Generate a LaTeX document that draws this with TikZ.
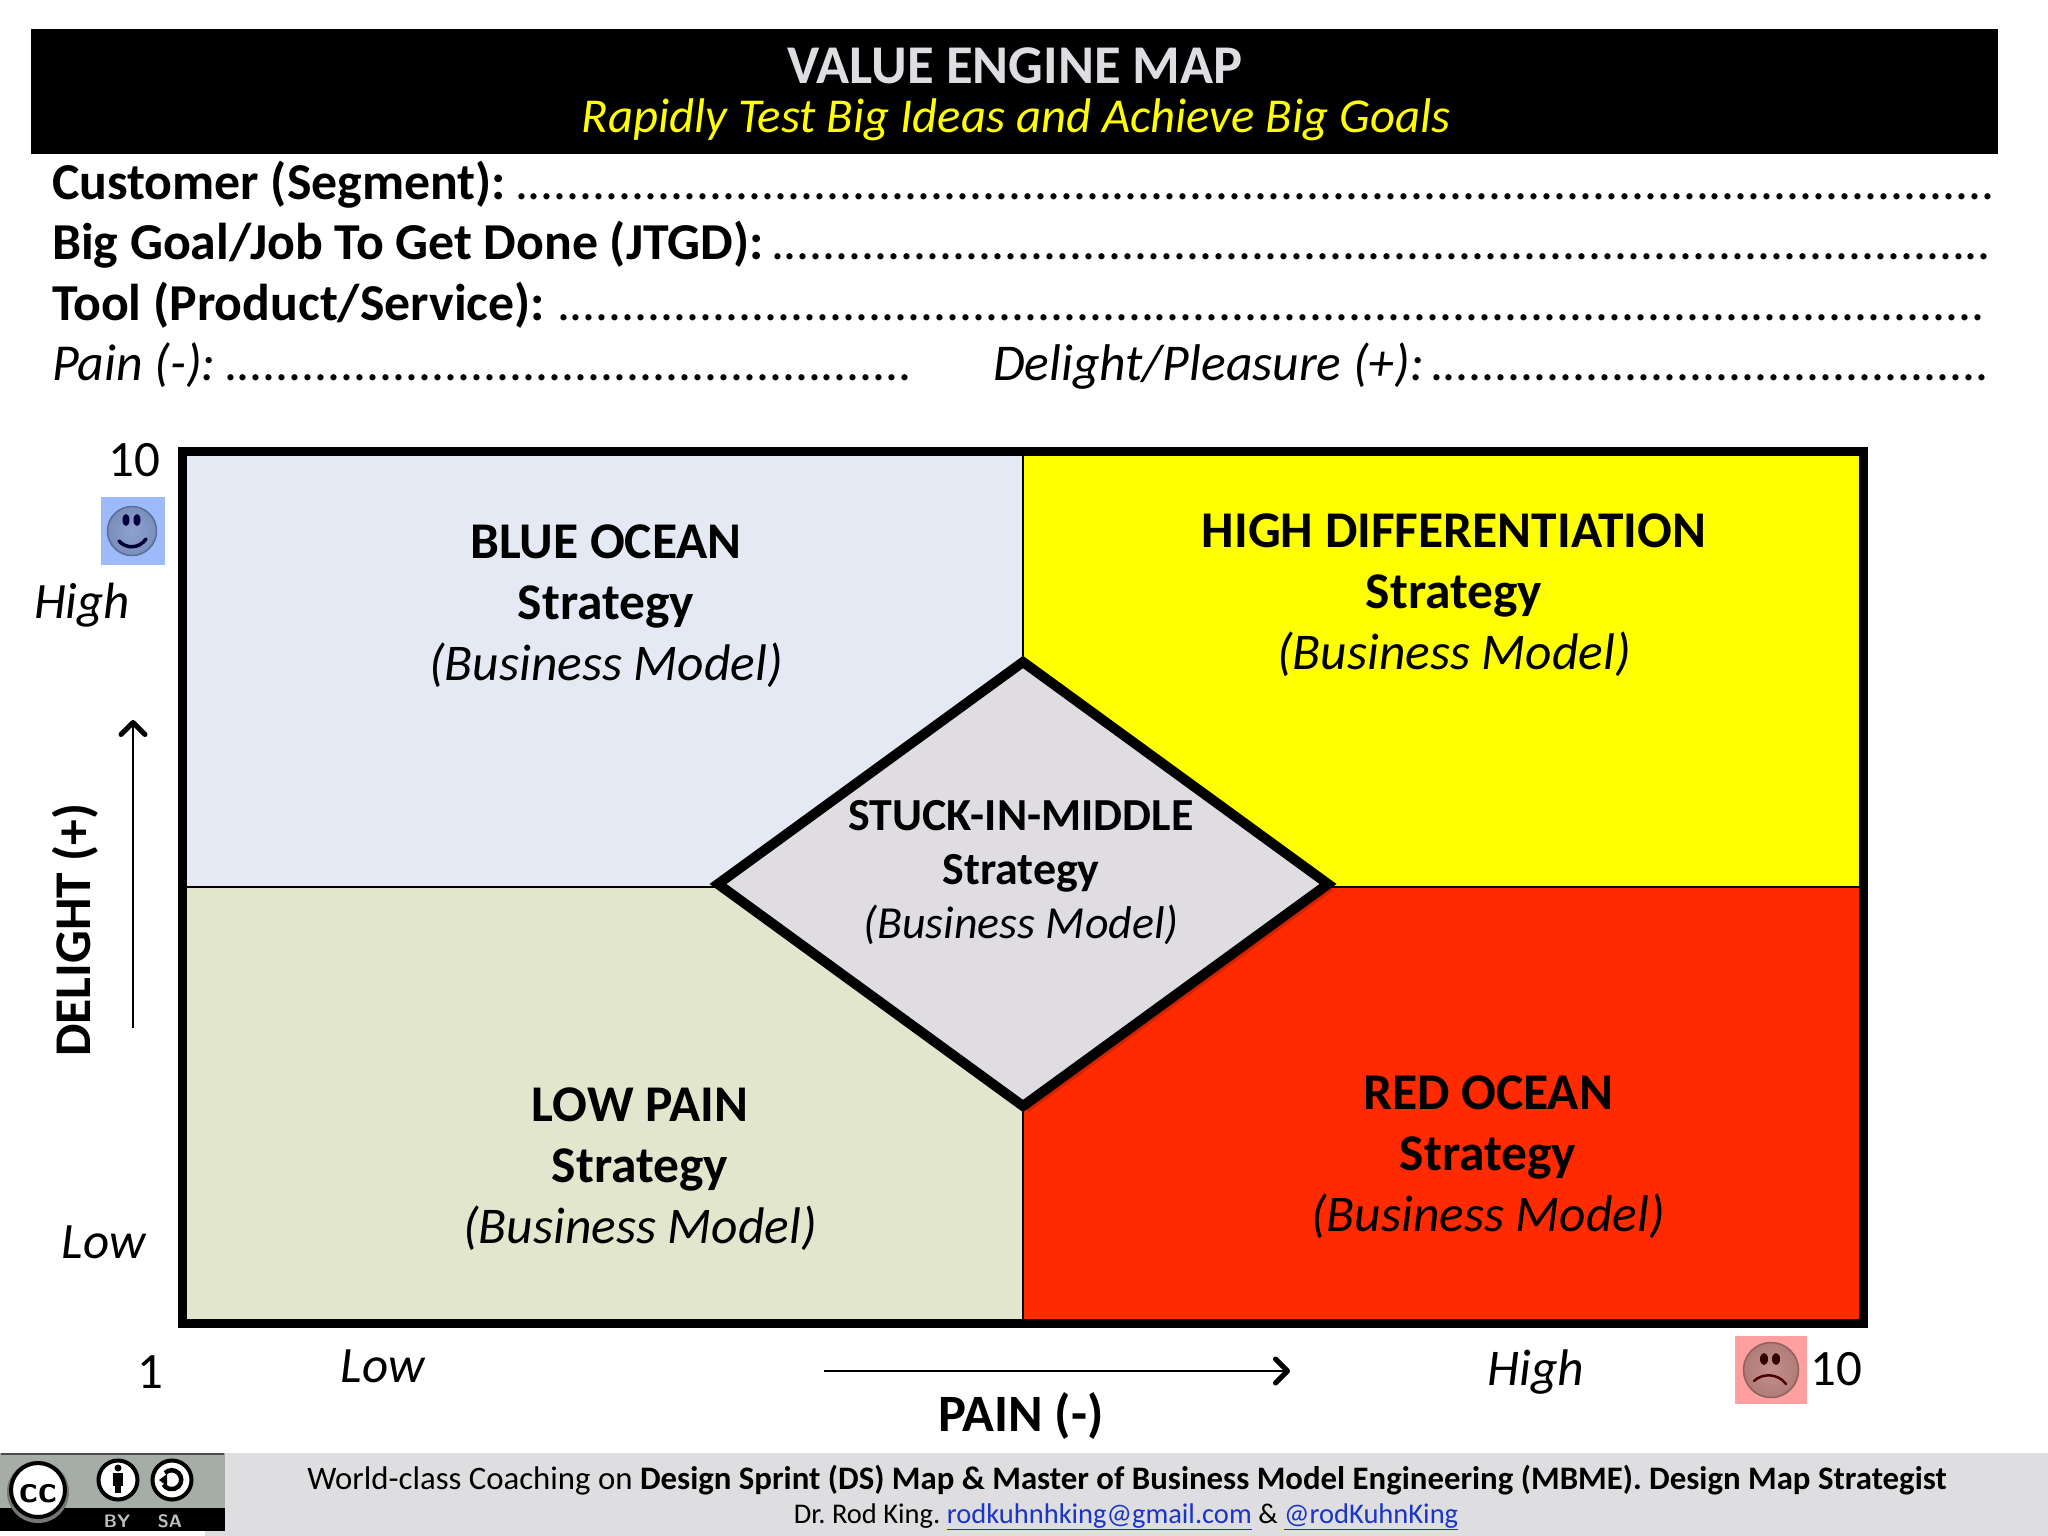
\documentclass[tikz,border=0pt]{standalone}
\usepackage{fontspec}
\setmainfont{Carlito}
\usetikzlibrary{arrows.meta}
\definecolor{qblue}{HTML}{E4E9F4}
\definecolor{qgreen}{HTML}{E1E6CC}
\definecolor{qyellow}{HTML}{FFFF00}
\definecolor{qred}{HTML}{FF2A00}
\definecolor{qgray}{HTML}{DFDDE1}
\definecolor{footgray}{HTML}{DEDDE0}
\definecolor{linkblue}{HTML}{1A35C8}
\definecolor{smsq}{HTML}{9DBBFB}
\definecolor{smin}{HTML}{8DA2CF}
\definecolor{smout}{HTML}{7A8EBB}
\definecolor{smring}{HTML}{5A6E98}
\definecolor{frsq}{HTML}{FF9F9F}
\definecolor{frin}{HTML}{C48F8B}
\definecolor{frout}{HTML}{B07C78}
\definecolor{frring}{HTML}{8E625F}
\definecolor{ccgray}{HTML}{A6ACA6}
\newcommand\fs[1]{\fontsize{#1}{#1}\selectfont}
\frenchspacing
\tikzset{
 lbl/.style={inner sep=0pt,outer sep=0pt,anchor=base},
 lblw/.style={inner sep=0pt,outer sep=0pt,anchor=base west},
 quad/.style={draw=black,line width=1.5pt},
 qt/.style={inner sep=0pt,outer sep=0pt,align=center,anchor=center,font=\fontsize{51.5}{61}\selectfont},
 qtm/.style={inner sep=0pt,outer sep=0pt,align=center,anchor=center,font=\fontsize{45.9}{54}\selectfont},
 axarrow/.style={line width=2pt,-{Straight Barb[length=12pt,width=24pt,line width=5pt,round]}},
 cclogo/.style={fill=white,draw=black,line width=4pt},
 dshadow/.style={fill=black,opacity=.16},
}
\begin{document}
\begin{tikzpicture}[x=1pt,y=-1pt]
\useasboundingbox (0,0) rectangle (2048,1536);
\fill[white] (0,0) rectangle (2048,1536);
% header
\fill[black] (31,29) rectangle (1998,154);
\node[lbl,text=qgray] (title) at (1015,84) {\fs{54.6}\textbf{VALUE ENGINE MAP}};
\node[lbl,text=qyellow] (subtitle) at (1016,132) {\fs{48.7}\textit{Rapidly Test Big Ideas and Achieve Big Goals}};
% form lines
\node[lblw] (cust) at (52,199) {\fs{51.8}\textbf{Customer (Segment):}};
\node[lblw] (custd) at (515,199) {\fs{51.5}..................................................................................................................};
\node[lblw] (goal) at (52,259) {\fs{51.8}\textbf{Big Goal/Job To Get Done (JTGD):}};
\node[lblw] (goald) at (771,259) {\fs{51.5}..............................................................................................};
\node[lblw] (tool) at (52,320) {\fs{51.8}\textbf{Tool (Product/Service):}};
\node[lblw] (toold) at (557,320) {\fs{51.5}..............................................................................................................};
\node[lblw] (pain) at (52,380) {\fs{51.8}\textit{Pain (-):}};
\node[lblw] (paind) at (224,380) {\fs{51.5}.....................................................};
\node[lblw] (del) at (993,380) {\fs{51.6}\textit{Delight/Pleasure (+):}};
\node[lblw] (deld) at (1430,380) {\fs{51.5}...........................................};
% quadrants
\fill[qblue] (182,451) rectangle (1023,887);
\fill[qyellow] (1023,451) rectangle (1863,887);
\fill[qgreen] (182,887) rectangle (1023,1323);
\fill[qred] (1023,887) rectangle (1863,1323);
\draw[quad] (1023,451) -- (1023,1323);
\draw[quad] (182,887) -- (1863,887);
\draw[line width=9pt,draw=black] (182.5,451.5) rectangle (1863,1323);
% diamond
\fill[dshadow] (722,886) -- (1025,664) -- (1330,886) -- (1025,1108) -- cycle;
\fill[dshadow] (724,888) -- (1027,666) -- (1332,888) -- (1027,1110) -- cycle;
\fill[dshadow] (726,890) -- (1029,668) -- (1334,890) -- (1029,1112) -- cycle;
\draw[line width=10pt,fill=qgray,line join=miter] (718,884) -- (1023,662) -- (1328,884) -- (1023,1106) -- cycle;
% quadrant text
\node[qt] (blue) at (606,606) {\textbf{BLUE OCEAN}\\\textbf{Strategy}\\\textit{(Business Model)}};
\node[qt] (high) at (1454,595) {\textbf{HIGH DIFFERENTIATION}\\\textbf{Strategy}\\\textit{(Business Model)}};
\node[qt] (low) at (640,1169) {\textbf{LOW PAIN}\\\textbf{Strategy}\\\textit{(Business Model)}};
\node[qt] (red) at (1488,1157) {\textbf{RED OCEAN}\\\textbf{Strategy}\\\textit{(Business Model)}};
\node[qtm] (mid) at (1021,873) {\textbf{STUCK-IN-MIDDLE}\\\textbf{Strategy}\\\textit{(Business Model)}};
% axis labels
\node[lbl] (ten) at (134,476) {\fs{51}10};
\node[lbl] (hi) at (82,618) {\fs{51}\textit{High}};
\node[lbl] (lo) at (104,1258) {\fs{51}\textit{Low}};
\node[lbl,rotate=90] (delight) at (90,930) {\fs{51.5}\textbf{DELIGHT (+)}};
\coordinate (da) at (133,1028);
\coordinate (db) at (133,720);
\draw[axarrow] (da) -- (db);
\node[lbl] (one) at (150,1388) {\fs{51}1};
\node[lbl] (xlo) at (383,1382) {\fs{51}\textit{Low}};
\node[lbl] (xhi) at (1536,1385) {\fs{51.5}\textit{High}};
\node[lbl] (xten) at (1836,1385) {\fs{51}10};
\coordinate (pa) at (824,1371);
\coordinate (pb) at (1290,1371);
\draw[axarrow] (pa) -- (pb);
\node[lbl] (paintitle) at (1021,1431) {\fs{52.5}\textbf{PAIN (-)}};
% smiley
\fill[smsq] (101,497) rectangle (165,565);
\shade[inner color=smin,outer color=smout] (132,531) circle (25);
\draw[smring,line width=1.5pt] (132,531) circle (24.5);
\fill[black!75!blue] (126,520) ellipse (3.5 and 6);
\fill[black!75!blue] (137,520) ellipse (3.5 and 6);
\draw[line width=3.5pt,black!80!blue,line cap=round] (119,541) .. controls (126,549) and (139,549) .. (146,539);
% frowny
\fill[frsq] (1735,1336) rectangle (1807,1404);
\shade[inner color=frin,outer color=frout] (1771,1370) circle (28);
\draw[frring,line width=1.5pt] (1771,1370) circle (27.5);
\fill[black!80!red] (1764,1359) ellipse (4 and 6);
\fill[black!80!red] (1776,1359) ellipse (4 and 6);
\draw[line width=2.5pt,black!70!red,line cap=round] (1754,1381) .. controls (1762,1373) and (1778,1373) .. (1786,1384);
% footer
\fill[footgray] (205,1531) rectangle (2048,1536);
\fill[footgray] (225,1453) rectangle (2048,1531);
\node[lbl] (foot1) at (1127,1489) {\fs{32.8}World-class Coaching on \textbf{Design Sprint (DS) Map \& Master of Business Model Engineering (MBME). Design Map Strategist}};
\node[lbl] (foot2) at (1126,1523) {\fs{28.5}Dr. Rod King. \textcolor{linkblue}{\underline{rodkuhnhking@gmail.com}} \& \textcolor{linkblue}{\underline{@rodKuhnKing}}};
% licence badge
\fill[ccgray] (0,1453) rectangle (225,1508);
\fill[black] (0,1508) rectangle (225,1531);
\draw[line width=2pt,black!70] (1,1454) -- (224,1454);
\fill[ccgray!70!black] (38,1492) circle (31);
\draw[cclogo] (38,1490) circle (27);
\node[lbl] (cc) at (38,1502) {\fs{38}\sffamily\textbf{cc}};
\draw[cclogo] (118,1480) circle (19.5);
\fill[black] (118,1468) circle (3.5);
\fill[black] (113,1473) rectangle (123,1486);
\fill[black] (115,1486) rectangle (121,1493);
\draw[cclogo] (172,1480) circle (19.5);
\draw[black,line width=4.5pt] (165,1473) arc (-135:150:9.5);
\fill[black] (159,1480) -- (167,1474) -- (167,1486) -- cycle;
\node[lbl,text=black!25] (by) at (117,1527) {\fs{18}\sffamily\textbf{BY}};
\node[lbl,text=black!25] (sa) at (170,1527) {\fs{18}\sffamily\textbf{SA}};
\end{tikzpicture}
\end{document}
